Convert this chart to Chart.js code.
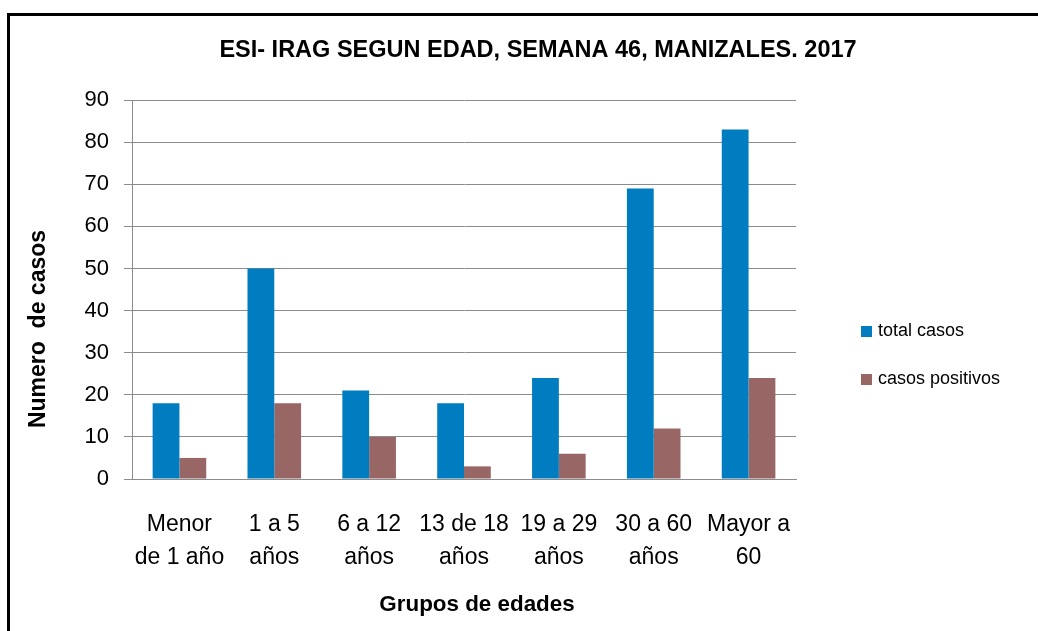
<!DOCTYPE html>
<html>
<head>
<meta charset="utf-8">
<script src="https://cdn.jsdelivr.net/npm/chart.js@4"></script>
<style>
  html, body { margin: 0; padding: 0; background: #fff; overflow: hidden; }
  #wrap { position: relative; width: 1038px; height: 631px; }
  #frame { position: absolute; left: 7px; top: 13px; width: 1100px; height: 700px;
           border: 3px solid #000; box-sizing: border-box; pointer-events: none; }
  canvas { position: absolute; left: 0; top: 0; }
</style>
</head>
<body>
<div id="wrap">
  <canvas id="chart" width="1038" height="631"></canvas>
  <div id="frame"></div>
</div>
<script>
// data
const grupos = [
  ["Menor", "de 1 año"],
  ["1 a 5", "años"],
  ["6 a 12", "años"],
  ["13 de 18", "años"],
  ["19 a 29", "años"],
  ["30 a 60", "años"],
  ["Mayor a", "60"]
];
const totalCasos = [18, 50, 21, 18, 24, 69, 83];
const casosPositivos = [5, 18, 10, 3, 6, 12, 24];
const yTicks = [0, 10, 20, 30, 40, 50, 60, 70, 80, 90];

const FONT = "'Liberation Sans', Arial, sans-serif";
const gridGray = "#8c8c8c";

// titles + legend drawn by hand (Excel style placement)
const extras = {
  id: "extras",
  afterDraw(chart) {
    const ctx = chart.ctx;
    const area = chart.chartArea;
    ctx.save();
    ctx.fillStyle = "#000";
    ctx.textAlign = "center";
    ctx.textBaseline = "middle";

    ctx.font = "bold 23.5px " + FONT;
    ctx.fillText("ESI- IRAG SEGUN EDAD, SEMANA 46, MANIZALES. 2017", 538, 51);

    ctx.font = "bold 22.4px " + FONT;
    ctx.fillText("Grupos de edades", (area.left + area.right) / 2 + 13, 605);

    ctx.save();
    ctx.translate(39, 329);
    ctx.rotate(-Math.PI / 2);
    ctx.font = "bold 23px " + FONT;
    ctx.fillText("Numero  de casos", 0, 0);
    ctx.restore();

    // legend
    ctx.textAlign = "left";
    ctx.font = "18px " + FONT;
    const rows = [331, 379];
    chart.data.datasets.forEach((ds, i) => {
      ctx.fillStyle = ds.backgroundColor;
      ctx.fillRect(861, rows[i] - 5, 11, 11);
      ctx.fillStyle = "#000";
      ctx.fillText(ds.label, 878, rows[i]);
    });
    ctx.restore();
  }
};

new Chart(document.getElementById("chart"), {
  type: "bar",
  data: {
    labels: grupos,
    datasets: [
      { label: "total casos", data: totalCasos, backgroundColor: "#007dc0" },
      { label: "casos positivos", data: casosPositivos, backgroundColor: "#996666" }
    ]
  },
  options: {
    responsive: false,
    animation: false,
    layout: { padding: { top: 100, right: 242, left: 0, bottom: 0 } },
    plugins: { legend: { display: false }, title: { display: false }, tooltip: { enabled: false } },
    datasets: { bar: { categoryPercentage: 0.565, barPercentage: 1 } },
    scales: {
      x: {
        grid: { display: false },
        border: { display: true, color: gridGray, width: 1 },
        ticks: {
          color: "#000",
          font: { family: FONT, size: 23, lineHeight: 1.43 },
          padding: 21,
          maxRotation: 0,
          autoSkip: false
        },
        afterFit(scale) { scale.height = 152; }
      },
      y: {
        min: 0,
        max: 90,
        afterBuildTicks(scale) { scale.ticks = yTicks.map(v => ({ value: v })); },
        grid: { color: gridGray, tickLength: 8, lineWidth: 1 },
        border: { display: true, color: gridGray, width: 1 },
        ticks: {
          color: "#000",
          font: { family: FONT, size: 22 },
          padding: 15
        },
        afterFit(scale) { scale.width = 132; }
      }
    }
  },
  plugins: [extras]
});
</script>
</body>
</html>
